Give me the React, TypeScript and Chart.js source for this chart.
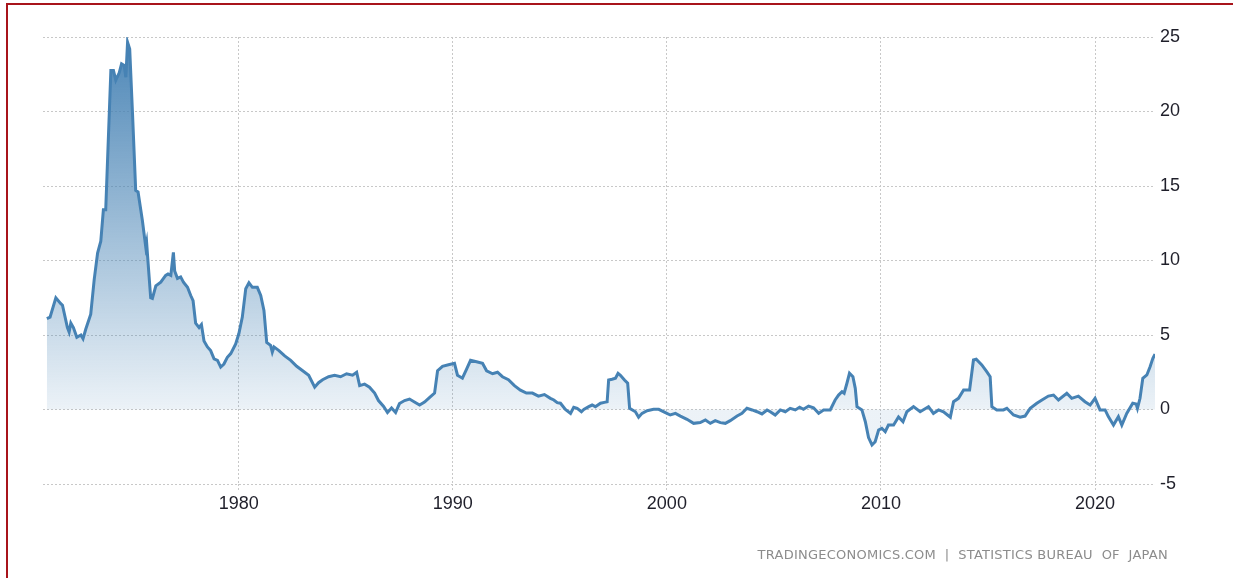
import React, { useEffect, useRef } from "react";
import { Chart, registerables } from "chart.js";

Chart.register(...registerables);

// Japan inflation rate (YoY %), decimal year positions
const dates: number[] = [
  1971.04, 1971.19, 1971.46, 1971.69, 1971.77, 1972.0, 1972.08, 1972.16, 1972.28, 1972.44,
  1972.63, 1972.73, 1972.86, 1973.09, 1973.25, 1973.41, 1973.56, 1973.68, 1973.79, 1974.03,
  1974.15, 1974.26, 1974.42, 1974.53, 1974.65, 1974.73, 1974.81, 1974.91, 1975.04, 1975.19,
  1975.3, 1975.5, 1975.66, 1975.7, 1975.77, 1975.89, 1975.97, 1976.13, 1976.36, 1976.59,
  1976.7, 1976.83, 1976.95, 1977.01, 1977.14, 1977.29, 1977.42, 1977.61, 1977.76, 1977.87,
  1977.99, 1978.15, 1978.26, 1978.38, 1978.54, 1978.69, 1978.85, 1979.01, 1979.16, 1979.31,
  1979.47, 1979.63, 1979.86, 1980.01, 1980.17, 1980.33, 1980.48, 1980.64, 1980.87, 1981.03,
  1981.18, 1981.31, 1981.49, 1981.57, 1981.65, 1981.88,
  1982.15, 1982.43, 1982.71, 1982.99, 1983.27, 1983.55, 1983.73, 1983.92, 1984.2, 1984.48,
  1984.76, 1985.04, 1985.32, 1985.51, 1985.65, 1985.88, 1986.11, 1986.35, 1986.53, 1986.77,
  1986.95, 1987.14, 1987.33, 1987.51, 1987.75, 1987.98, 1988.21, 1988.45, 1988.68, 1988.91,
  1989.15, 1989.29, 1989.52, 1989.8, 1990.08, 1990.22, 1990.45, 1990.64, 1990.83, 1991.11,
  1991.39, 1991.58, 1991.86, 1992.09, 1992.32, 1992.6, 1992.88, 1993.16, 1993.44, 1993.72,
  1994.0, 1994.28, 1994.56,
  1994.72, 1994.88, 1995.03, 1995.26, 1995.5, 1995.65, 1995.81, 1996.01, 1996.12, 1996.35,
  1996.51, 1996.66, 1996.9, 1997.08, 1997.21, 1997.28, 1997.44, 1997.6, 1997.72, 1997.83,
  1998.02, 1998.17, 1998.26, 1998.53, 1998.68, 1998.84, 1999.08, 1999.38, 1999.62, 1999.93,
  2000.16, 2000.4, 2000.63, 2000.94, 2001.25, 2001.56, 2001.8, 2002.03, 2002.26, 2002.5,
  2002.73, 2002.96, 2003.28, 2003.51, 2003.74, 2003.98, 2004.21, 2004.44, 2004.68, 2004.83,
  2005.06, 2005.3, 2005.53, 2005.76, 2006.0, 2006.2, 2006.38, 2006.62, 2006.85, 2007.09,
  2007.32, 2007.63, 2007.86, 2008.02, 2008.18, 2008.28, 2008.41, 2008.53, 2008.69, 2008.8,
  2008.88, 2009.11, 2009.27, 2009.42, 2009.58, 2009.73, 2009.89, 2010.04, 2010.2, 2010.35,
  2010.59, 2010.82, 2011.03, 2011.21, 2011.52, 2011.83, 2012.22, 2012.45, 2012.69, 2012.92,
  2013.24, 2013.39, 2013.62, 2013.86, 2014.14, 2014.32, 2014.45, 2014.71, 2014.94, 2015.1,
  2015.18, 2015.41, 2015.72, 2015.88, 2016.19, 2016.5, 2016.73, 2016.97, 2017.28, 2017.52,
  2017.82, 2018.06, 2018.29, 2018.68, 2018.91, 2019.22, 2019.53, 2019.77, 2020.0, 2020.23,
  2020.47, 2020.62, 2020.86, 2021.09, 2021.25, 2021.48, 2021.76, 2021.92, 2021.98, 2022.1,
  2022.23, 2022.42, 2022.57, 2022.7, 2022.8,
];

const inflation: number[] = [
  6.1, 6.2, 7.5, 7.1, 7.0, 5.5, 5.2, 5.8, 5.5, 4.85,
  5.0, 4.75, 5.4, 6.4, 8.7, 10.5, 11.3, 13.4, 13.4, 22.75,
  22.75, 22.1, 22.6, 23.2, 23.1, 22.3, 24.65, 24.2, 19.9, 14.7,
  14.6, 12.7, 10.9, 11.2, 9.8, 7.5, 7.45, 8.3, 8.55, 9.0,
  9.1, 9.0, 10.55, 9.3, 8.8, 8.9, 8.55, 8.2, 7.65, 7.3,
  5.8, 5.5, 5.7, 4.6, 4.2, 3.95, 3.4, 3.3, 2.85, 3.05,
  3.5, 3.75, 4.4, 5.1, 6.2, 8.1, 8.5, 8.2, 8.2, 7.65,
  6.65, 4.5, 4.3, 3.85, 4.2, 3.95,
  3.6, 3.3, 2.9, 2.6, 2.3, 1.5, 1.8, 2.0, 2.2, 2.3,
  2.2, 2.4, 2.3, 2.5, 1.6, 1.7, 1.5, 1.1, 0.6, 0.2,
  -0.2, 0.1, -0.2, 0.4, 0.6, 0.7, 0.5, 0.3, 0.5, 0.8,
  1.1, 2.6, 2.9, 3.0, 3.1, 2.3, 2.1, 2.7, 3.3, 3.2,
  3.1, 2.6, 2.4, 2.5, 2.2, 2.0, 1.6, 1.3, 1.1, 1.1,
  0.9, 1.0, 0.75,
  0.64, 0.46, 0.42, 0.0, -0.26, 0.15, 0.08, -0.15, 0.0, 0.19,
  0.3, 0.19, 0.42, 0.48, 0.52, 1.98, 2.03, 2.1, 2.43, 2.3,
  1.98, 1.76, 0.08, -0.15, -0.52, -0.26, -0.08, 0.01, 0.01, -0.21,
  -0.37, -0.26, -0.44, -0.66, -0.93, -0.88, -0.7, -0.93, -0.75, -0.88,
  -0.93, -0.75, -0.44, -0.26, 0.08, -0.03, -0.15, -0.3, -0.03, -0.15,
  -0.37, -0.03, -0.15, 0.08, -0.03, 0.15, 0.01, 0.23, 0.12, -0.26,
  -0.03, -0.03, 0.64, 0.97, 1.19, 1.09, 1.76, 2.43, 2.2, 1.42,
  0.19, -0.03, -0.82, -1.88, -2.38, -2.16, -1.38, -1.26, -1.49, -1.04,
  -1.04, -0.5, -0.82, -0.15, 0.19, -0.15, 0.19, -0.26, -0.03, -0.15,
  -0.52, 0.52, 0.75, 1.31, 1.31, 3.32, 3.37, 2.99, 2.54, 2.2,
  0.19, -0.03, -0.03, 0.08, -0.37, -0.52, -0.44, 0.08, 0.42, 0.64,
  0.9, 0.97, 0.64, 1.09, 0.75, 0.9, 0.52, 0.3, 0.75, -0.03,
  -0.03, -0.48, -1.04, -0.48, -1.04, -0.26, 0.42, 0.37, 0.08, 0.75,
  2.1, 2.32, 2.87, 3.43, 3.72,
];

const xTickYears: number[] = [1980, 1990, 2000, 2010, 2020];
const yTickValues: number[] = [-5, 0, 5, 10, 15, 20, 25];

const LINE = "#4682b4";
const GRID = "#c8c8c8";

export default function App() {
  const ref = useRef<HTMLCanvasElement | null>(null);

  useEffect(() => {
    if (!ref.current) return;
    const points = dates.map((d, i) => ({ x: d, y: inflation[i] }));
    const chart = new Chart(ref.current, {
      type: "line",
      data: {
        datasets: [
          {
            data: points,
            borderColor: LINE,
            borderWidth: 3,
            pointRadius: 0,
            tension: 0,
            fill: "origin",
            backgroundColor: (ctx: any) => {
              const c = ctx.chart;
              const area = c.chartArea;
              if (!area) return "rgba(70,130,180,0.3)";
              const zero = c.scales.y.getPixelForValue(0);
              const g = c.ctx.createLinearGradient(0, area.top, 0, zero);
              g.addColorStop(0, "rgba(70,130,180,0.97)");
              g.addColorStop(1, "rgba(70,130,180,0.1)");
              return g;
            },
          },
        ],
      },
      options: {
        animation: false,
        responsive: false,
        devicePixelRatio: 1,
        layout: { padding: { left: 43, top: 37, right: 0, bottom: 0 } },
        plugins: { legend: { display: false }, tooltip: { enabled: false } },
        scales: {
          x: {
            type: "linear",
            position: "bottom",
            min: 1970.86,
            max: 2022.8,
            afterBuildTicks: (axis: any) => {
              axis.ticks = xTickYears.map((v) => ({ value: v }));
            },
            afterFit: (axis: any) => {
              axis.height = 94;
            },
            grid: {
              color: GRID,
              lineWidth: 1,
              drawTicks: true,
              tickLength: 6,
              tickColor: GRID,
              tickBorderDash: [2, 2],
            },
            border: { display: false, dash: [2, 2] },
            ticks: {
              padding: 3,
              maxRotation: 0,
              autoSkip: false,
              color: "#1f1f2a",
              font: { family: "'Liberation Sans', Arial, sans-serif", size: 18 },
              callback: (v: any) => String(v),
            },
          },
          y: {
            type: "linear",
            position: "right",
            min: -5,
            max: 25,
            afterBuildTicks: (axis: any) => {
              axis.ticks = yTickValues.map((v) => ({ value: v }));
            },
            afterFit: (axis: any) => {
              axis.width = 78;
            },
            grid: { color: GRID, lineWidth: 1, drawTicks: false },
            border: { display: false, dash: [2, 2] },
            ticks: {
              padding: 5,
              color: "#1f1f2a",
              font: { family: "'Liberation Sans', Arial, sans-serif", size: 18 },
              callback: (v: any) => String(v),
            },
          },
        },
      },
    });
    return () => chart.destroy();
  }, []);

  return (
    <div
      style={{
        position: "fixed",
        left: 0,
        top: 0,
        width: 1233,
        height: 578,
        background: "#fff",
        overflow: "hidden",
      }}
    >
      <div
        style={{
          position: "absolute",
          left: 6,
          top: 3,
          width: 1300,
          height: 700,
          borderLeft: "2px solid #a8141b",
          borderTop: "2px solid #a8141b",
          boxSizing: "border-box",
        }}
      />
      <canvas
        ref={ref}
        width={1233}
        height={578}
        style={{ position: "absolute", left: 0, top: 0, width: 1233, height: 578 }}
      />
      <div
        style={{
          position: "absolute",
          left: 0,
          top: 548,
          width: 1168,
          textAlign: "right",
          whiteSpace: "pre",
          fontFamily: "'DejaVu Sans', sans-serif",
          fontSize: 13,
          lineHeight: "14px",
          letterSpacing: "0.25px",
          color: "#8c8c8c",
        }}
      >
        {"TRADINGECONOMICS.COM  |  STATISTICS BUREAU  OF  JAPAN"}
      </div>
    </div>
  );
}
